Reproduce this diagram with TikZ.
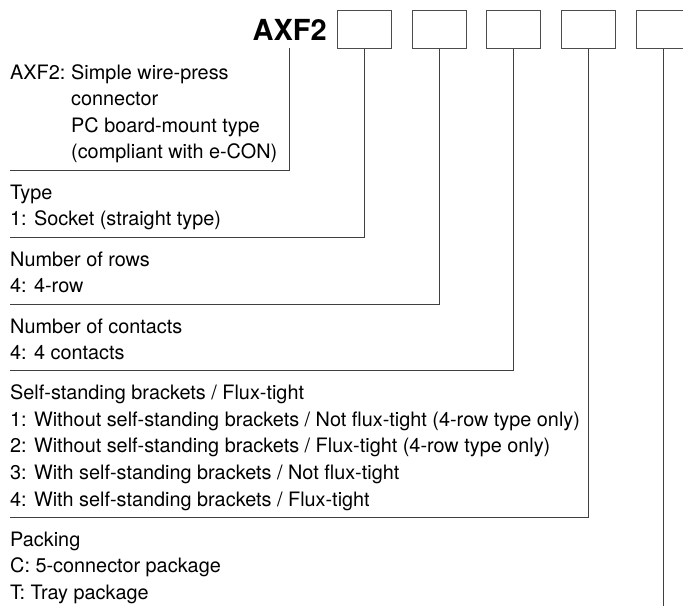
\documentclass[tikz,border=0pt]{standalone}
\usepackage{fontspec}
\setmainfont{TeX Gyre Heros}
\begin{document}
\begin{tikzpicture}[x=1pt,y=-1pt,
  txt/.style={anchor=base west, inner sep=0pt, font=\fontsize{19.85}{24}\selectfont},
  ttl/.style={anchor=base, inner sep=0pt, font=\fontsize{29}{30}\selectfont\bfseries},
  codebox/.style={draw=black!70, line width=0.9pt, minimum width=54pt, minimum height=37.6pt, inner sep=0pt},
  lead/.style={draw=black!75, line width=0.9pt}]
\useasboundingbox (0,0) rectangle (683,606);

% title and code boxes
\node[ttl] (title) at (289.7,40.5) {AXF2};
\node[codebox] (b1) at (364.3,29.5) {};
\node[codebox] (b2) at (439.0,29.5) {};
\node[codebox] (b3) at (513.7,29.5) {};
\node[codebox] (b4) at (588.3,29.5) {};
\node[codebox] (b5) at (663.3,29.5) {};

% leader end points
\coordinate (t0) at (289.7,48.3);
\coordinate (e0) at (10,170.3);
\coordinate (e1) at (10,237.3);
\coordinate (e2) at (10,304.0);
\coordinate (e3) at (10,370.7);
\coordinate (e4) at (10,517.3);
\coordinate (e5) at (663.3,606);

\draw[lead] (t0) |- (e0);
\draw[lead] (b1.south) |- (e1);
\draw[lead] (b2.south) |- (e2);
\draw[lead] (b3.south) |- (e3);
\draw[lead] (b4.south) |- (e4);
\draw[lead] (b5.south) -- (e5);

% AXF2 block
\node[txt] (l0a) at (10,79.0) {AXF2:};
\node[txt] (l0b) at (71,79.0) {Simple wire-press};
\node[txt] (l0c) at (71,105.6) {connector};
\node[txt] (l0d) at (71,132.2) {PC board-mount type};
\node[txt] (l0e) at (71,158.8) {(compliant with e-CON)};

% Type
\node[txt] (l1a) at (10,199.3) {Type};
\node[txt] (l1b) at (10,225.9) {1: Socket (straight type)};

% Rows
\node[txt] (l2a) at (10,266.3) {Number of rows};
\node[txt] (l2b) at (10,292.9) {4: 4-row};

% Contacts
\node[txt] (l3a) at (10,333.0) {Number of contacts};
\node[txt] (l3b) at (10,359.6) {4: 4 contacts};

% Brackets
\node[txt] (l4a) at (10,399.7) {Self-standing brackets / Flux-tight};
\node[txt] (l4b) at (10,426.3) {1: Without self-standing brackets / Not flux-tight (4-row type only)};
\node[txt] (l4c) at (10,452.9) {2: Without self-standing brackets / Flux-tight (4-row type only)};
\node[txt] (l4d) at (10,479.5) {3: With self-standing brackets / Not flux-tight};
\node[txt] (l4e) at (10,506.1) {4: With self-standing brackets / Flux-tight};

% Packing
\node[txt] (l5a) at (10,546.3) {Packing};
\node[txt] (l5b) at (10,572.9) {C: 5-connector package};
\node[txt] (l5c) at (10,599.5) {T: Tray package};
\end{tikzpicture}
\end{document}
